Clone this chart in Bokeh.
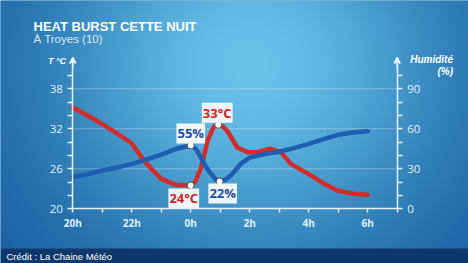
import numpy as np
from bokeh.plotting import figure
from bokeh.models import (Range1d, LinearAxis, FixedTicker, Label, Arrow, VeeHead,
                          ColumnDataSource)
from bokeh.core.properties import value
from bokeh.embed import file_html
from bokeh.resources import INLINE

# ---------------- data ----------------
hours_temp = [20, 20.5, 21, 21.5, 22, 22.4, 22.75, 23, 23.5, 24, 24.15, 24.35, 24.57,
              24.78, 24.93, 25.1, 25.25, 25.58, 25.92, 26.26, 26.7, 27.05, 27.4, 28,
              28.5, 29, 29.5, 30]
temp_c = [35.2, 34.0, 32.7, 31.3, 29.8, 27.3, 25.6, 24.5, 23.6, 23.5, 24.0, 26.2, 30.2,
          32.3, 32.6, 32.3, 31.6, 29.2, 28.5, 28.5, 29.0, 28.5, 26.7, 25.2,
          23.8, 22.7, 22.25, 22.1]
hours_hum = [20, 20.5, 21, 21.5, 22, 22.5, 23, 23.5, 24, 24.17, 24.34, 24.5, 24.68, 24.85,
             24.98, 25.15, 25.36, 25.7, 26.03, 26.5, 27, 27.5, 28, 28.5, 29, 29.5, 30]
humidity = [23.7, 26.0, 28.7, 31.0, 33.7, 37.0, 40.7, 45.0, 47.5, 45.0, 38.7, 32.0, 26.3,
            22.0, 20.5, 21.5, 25.0, 33.8, 38.7, 41.0, 42.8, 45.5, 48.7, 52.3, 55.5, 57.2, 58.2]

temp_mark_hours = [24.0, 24.93]
temp_mark_vals = [23.5, 32.6]
temp_mark_text = ["24°C", "33°C"]
hum_mark_hours = [24.0, 24.98]
hum_mark_vals = [47.5, 20.5]
hum_mark_text = ["55%", "22%"]

temp_ticks = [20, 26, 32, 38]
temp_minor = [22, 24, 28, 30, 34, 36, 40]
hum_ticks = [0, 30, 60, 90]
hum_minor = [10, 20, 40, 50, 70, 80, 100]
hour_ticks = [20, 22, 24, 26, 28, 30]
hour_minor = [21, 23, 25, 27, 29, 31]
hour_labels = ["20h", "22h", "0h", "2h", "4h", "6h"]

title_text = "HEAT BURST CETTE NUIT"
subtitle_text = "À Troyes (10)"
credit_text = "Crédit : La Chaine Météo"

# ---------------- layout ----------------
W, H = 468, 263
X_START_PX, X_END_PX = 72.3, 396.7       # 20h and 7h
Y_BASE_PX = 208.3                         # 20 °C / 0 %
PX_PER_DEG = 6.667
HUM_PER_DEG = 5.0
xpp = 11.0 / (X_END_PX - X_START_PX)
X0 = 20 - X_START_PX * xpp
X1 = X0 + W * xpp
Y1 = 20 + Y_BASE_PX / PX_PER_DEG
Y0 = 20 - (H - Y_BASE_PX) / PX_PER_DEG


def px2x(px):
    return X0 + px * xpp


def px2y(py):
    return Y1 - py / PX_PER_DEG


p = figure(width=W, height=H, x_range=Range1d(X0, X1), y_range=Range1d(Y0, Y1),
           output_backend="svg", toolbar_location=None, min_border=0,
           x_axis_type=None, y_axis_type=None, title=None)
p.outline_line_color = None
p.background_fill_color = "#1a64a4"
p.border_fill_color = "#1a64a4"
p.extra_y_ranges = {"hum": Range1d(start=(Y0 - 20) * HUM_PER_DEG, end=(Y1 - 20) * HUM_PER_DEG)}

# background gradient
yy, xx = np.mgrid[0:H, 0:W].astype(float) + 0.5
d2 = ((xx - 250) / 200) ** 2 + ((yy - 65) / 190) ** 2
wgt = np.exp(-d2)
edge = np.array([20, 92, 158], dtype=float)
center = np.array([104, 194, 234], dtype=float)
rgb = edge + wgt[..., None] * (center - edge)
rgb[yy >= 248] = [13, 56, 108]
img = np.zeros((H, W), dtype=np.uint32)
view = img.view(dtype=np.uint8).reshape((H, W, 4))
view[..., 0:3] = np.clip(rgb, 0, 255).astype(np.uint8)
view[..., 3] = 255
img = np.ascontiguousarray(np.flipud(img))
p.image_rgba(image=[img], x=X0, y=Y0, dw=X1 - X0, dh=Y1 - Y0)

AX_COL = "#e6f1f9"
LBL_COL = "#e2eef8"

# grid lines
p.segment(x0=hour_ticks[0], x1=hour_minor[-1], y0=temp_ticks[1:], y1=temp_ticks[1:],
          line_color="white", line_alpha=0.3, line_width=1)

# axes
left = LinearAxis(fixed_location=20, bounds=(20, 42.6),
                  ticker=FixedTicker(ticks=temp_ticks, minor_ticks=temp_minor))
right = LinearAxis(y_range_name="hum", fixed_location=31, bounds=(0, 113),
                   ticker=FixedTicker(ticks=hum_ticks, minor_ticks=hum_minor))
bottom = LinearAxis(fixed_location=20, bounds=(20, 31),
                    ticker=FixedTicker(ticks=hour_ticks, minor_ticks=hour_minor),
                    major_label_overrides=dict(zip(hour_ticks, hour_labels)))
for ax in (left, right, bottom):
    ax.axis_line_color = AX_COL
    ax.axis_line_width = 1.5
    ax.major_tick_line_color = AX_COL
    ax.minor_tick_line_color = AX_COL
    ax.major_tick_line_width = 1.5
    ax.minor_tick_line_width = 1.5
    ax.major_tick_in = 0
    ax.minor_tick_in = 0
    ax.major_tick_out = 5
    ax.minor_tick_out = 5
    ax.major_label_text_color = LBL_COL
    ax.major_label_text_font = "Open Sans"
    ax.major_label_text_font_size = "11.5px"
    ax.major_label_standoff = 5
bottom.major_tick_out = 4
bottom.minor_tick_out = 4
bottom.major_label_text_font_style = "bold"
bottom.major_label_text_font_size = "10px"
bottom.major_label_standoff = 3
p.add_layout(left, "left")
p.add_layout(right, "right")
p.add_layout(bottom, "below")

p.add_layout(Arrow(end=VeeHead(size=6, line_color=AX_COL, fill_color=AX_COL, line_width=1.5),
                   x_start=20, y_start=41, x_end=20, y_end=42.7,
                   line_color=AX_COL, line_width=1.5))
p.add_layout(Arrow(end=VeeHead(size=6, line_color=AX_COL, fill_color=AX_COL, line_width=1.5),
                   x_start=31, y_start=105, x_end=31, y_end=113.5, y_range_name="hum",
                   line_color=AX_COL, line_width=1.5))

# series
p.line(hours_temp, temp_c, line_color="#d12d2b", line_width=4.5,
       line_join="round", line_cap="round")
p.line(hours_hum, humidity, y_range_name="hum", line_color="#1f5cb2", line_width=4.5,
       line_join="round", line_cap="round")

p.scatter(temp_mark_hours, temp_mark_vals, size=7, fill_color="white",
          line_color="#4a4a4a", line_width=1)
p.scatter(hum_mark_hours, hum_mark_vals, y_range_name="hum", size=7, fill_color="white",
          line_color="#4a4a4a", line_width=1)

t_src = ColumnDataSource(dict(x=temp_mark_hours, y=temp_mark_vals, text=temp_mark_text,
                              xo=[-7, -1], yo=[13, -12]))
h_src = ColumnDataSource(dict(x=hum_mark_hours, y=hum_mark_vals, text=hum_mark_text,
                              xo=[0, 3], yo=[-12, 12]))
for src, col, rng in ((t_src, "#cc2228", "default"), (h_src, "#1f4f9c", "hum")):
    p.text(x="x", y="y", text="text", x_offset="xo", y_offset="yo", source=src,
           y_range_name=rng, text_align="center", text_baseline="middle",
           text_font=value("Open Sans"), text_font_style="bold", text_font_size="13px",
           text_color=col, background_fill_color="white", background_fill_alpha=0.92,
           padding=1)

# texts
p.add_layout(Label(x=px2x(33), y=px2y(26), text=title_text, text_font="Liberation Sans",
                   text_font_style="bold", text_font_size="13px", text_color="white",
                   text_baseline="alphabetic"))
p.add_layout(Label(x=px2x(33), y=px2y(38), text=subtitle_text, text_font="Liberation Sans",
                   text_font_size="11.5px", text_color="#d9e9f5",
                   text_baseline="alphabetic"))
p.add_layout(Label(x=px2x(65.5), y=px2y(60), text="T °C", text_font="Liberation Sans",
                   text_font_style="bold italic", text_font_size="9px", text_color="white",
                   text_align="right", text_baseline="alphabetic"))
p.add_layout(Label(x=px2x(452.5), y=px2y(59), text="Humidité", text_font="Liberation Sans",
                   text_font_style="bold italic", text_font_size="10px", text_color="white",
                   text_align="right", text_baseline="alphabetic"))
p.add_layout(Label(x=px2x(452.5), y=px2y(70.5), text="(%)", text_font="Liberation Sans",
                   text_font_style="bold italic", text_font_size="10px", text_color="white",
                   text_align="right", text_baseline="alphabetic"))
p.add_layout(Label(x=px2x(6), y=px2y(255.5), text=credit_text, text_font="Liberation Sans",
                   text_font_size="9.5px", text_color="white", text_baseline="middle"))

open("out.html", "w").write(file_html(p, INLINE))
